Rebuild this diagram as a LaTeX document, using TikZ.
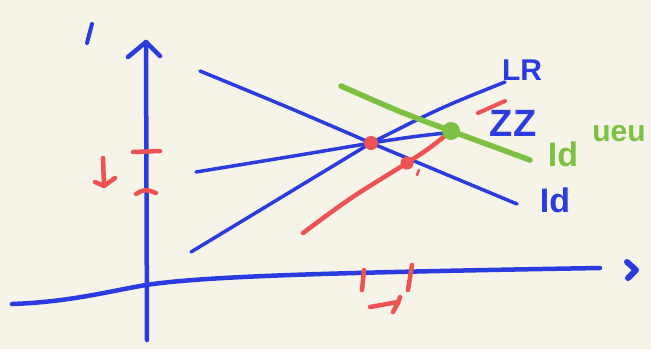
\documentclass[tikz,border=0pt]{standalone}
\usepackage{fontspec}
\setmainfont{Liberation Sans}
\definecolor{bg}{HTML}{F6F3E9}
\definecolor{pblue}{HTML}{2A3BE0}
\definecolor{pred}{HTML}{EE5252}
\definecolor{pgreen}{HTML}{7CC142}
\begin{document}
\begin{tikzpicture}[x=1pt,y=-1pt,line cap=round,line join=round,
  axis/.style={pblue,line width=4.5pt},
  bline/.style={pblue,line width=3.5pt},
  rmark/.style={pred,line width=4.5pt},
  blab/.style={pblue,font=\bfseries\fontsize{34}{34}\selectfont,inner sep=0pt},
  glab/.style={pgreen,font=\bfseries\fontsize{34}{34}\selectfont,inner sep=0pt}]
\fill[bg] (0,0) rectangle (651,349);
\useasboundingbox (0,0) rectangle (651,349);
% coordinates
\coordinate (yb) at (147,340);
\coordinate (yt) at (146,42);
\coordinate (P) at (371,143);
\coordinate (Q) at (407,163);
\coordinate (G) at (451,131);
% axes
\draw[axis] (yb) -- (yt);
\draw[axis] (128,57) -- (yt) -- (160,56);
\draw[axis] (12,304) .. controls (70,302) and (110,291) .. (146,285) .. controls (200,277) and (300,273) .. (600,268);
\draw[pblue,line width=6pt] (627,262) -- (636,270) -- (628,278);
\draw[pblue,line width=4pt] (92,24) -- (87,43);
% blue lines
\draw[bline] (191,252) .. controls (300,186) .. (P) .. controls (440,108) .. (505,82);
\draw[bline] (200,71) .. controls (290,108) .. (P) .. controls (450,176) .. (517,204);
\draw[bline] (196,172) .. controls (300,155) .. (P) .. controls (410,137) .. (445,133);
% green line
\draw[pgreen,line width=5.5pt] (341,86) .. controls (400,112) .. (G) .. controls (490,146) .. (530,160);
% red line
\draw[pred,line width=4.5pt] (303,233) .. controls (350,198) .. (Q) .. controls (430,148) .. (G);
\draw[pred,line width=2.5pt] (419,170) -- (417,175);
% dots
\fill[pred] (P) circle (7);
\fill[pred] (Q) circle (6.5);
\fill[pgreen] (G) circle (9);
% red marks on axes
\draw[rmark] (133,152) -- (160,151);
\draw[rmark] (136,194) .. controls (145,189) .. (156,193);
\draw[rmark] (103,158) -- (104,185);
\draw[rmark] (95,182) -- (104,186) -- (115,178);
\draw[rmark] (364,270) -- (362,290);
\draw[rmark] (412,265) -- (408,290);
\draw[rmark] (370,307) -- (398,302);
\draw[rmark] (400,297) -- (398,303) -- (393,312);
% labels
\node[blab,font=\bfseries\fontsize{30}{30}\selectfont] (lr) at (522,70) {LR};
\node[blab,font=\bfseries\fontsize{38}{38}\selectfont] (zz) at (513,123) {ZZ};
\draw[pred,line width=4pt] (478,113) -- (505,101);
\node[glab] (gid) at (563,154) {Id};
\node[pgreen,font=\bfseries\fontsize{30}{30}\selectfont,inner sep=0pt] (ueu) at (619,134) {ueu};
\node[blab] (bid) at (555,200) {Id};
\end{tikzpicture}
\end{document}
